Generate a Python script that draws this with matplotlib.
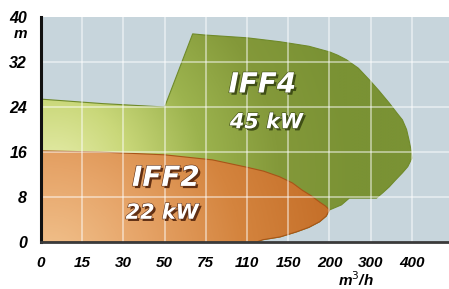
import numpy as np
import matplotlib
matplotlib.use('Agg')
import matplotlib.pyplot as plt
from matplotlib.patches import Polygon
from matplotlib.colors import LinearSegmentedColormap
import matplotlib.patheffects as pe

# ---- data ----
flow_ticks = ['0', '15', '30', '50', '75', '110', '150', '200', '300', '400']
head_ticks = [0, 8, 16, 24, 32, 40]

# IFF4 operating field boundary (position along flow axis in tick units, head m)
iff4_q = [0, 1.5, 3.0, 3.68, 3.97, 5.0, 5.8, 6.5, 7.0, 7.2, 7.41, 7.7, 7.97, 8.2, 8.45,
          8.65, 8.77, 8.87, 8.93, 8.98, 9.0, 8.9, 8.77, 8.6, 8.45, 8.3, 8.14, 7.48, 7.29, 7.0,
          6.92, 6.76, 6.5, 6.2, 5.8, 5.38, 5.23, 0]
iff4_h = [25.4, 24.6, 24.0, 37.0, 36.8, 36.3, 35.6, 34.8, 33.8, 33.2, 32.4, 30.9, 28.8, 26.9, 24.7,
          22.8, 21.7, 20.0, 18.1, 16.3, 14.9, 13.4, 12.3, 11.0, 9.8, 8.8, 7.8, 7.8, 6.6, 5.7,
          4.6, 3.6, 2.6, 1.8, 0.9, 0.4, 0, 0]

# IFF2 operating field boundary
iff2_q = [0, 1.43, 3.0, 4.16, 4.99, 5.4, 5.79, 6.1, 6.34, 6.56, 6.76, 6.9, 7.0, 6.92, 6.76,
          6.5, 6.2, 5.8, 5.38, 5.23, 0]
iff2_h = [16.2, 16.0, 15.5, 14.6, 13.3, 12.6, 11.6, 10.5, 9.2, 8.2, 7.1, 6.4, 5.7, 4.6, 3.6,
          2.6, 1.8, 0.9, 0.4, 0, 0]

XMAX = 9.9
YMAX = 40

fig = plt.figure(figsize=(4.49, 2.89), dpi=100)
fig.patch.set_facecolor('white')
ax = fig.add_axes([41 / 449, 47 / 289, 408 / 449, 225 / 289])
ax.set_facecolor('#c7d5dc')

PX_X = 408 / XMAX
PX_Y = 225 / YMAX


def grad_fill(q, h, colors, center, scale, zorder, edge):
    poly = Polygon(np.column_stack([q, h]), closed=True, facecolor='none',
                   edgecolor=edge, lw=0.8, zorder=zorder + 0.1)
    ax.add_patch(poly)
    xs = np.linspace(0, XMAX, 500)
    ys = np.linspace(0, YMAX, 300)
    X, Y = np.meshgrid(xs, ys)
    d = np.hypot((X - center[0]) * PX_X, (Y - center[1]) * PX_Y) / scale
    d = np.clip(d, 0, 1)
    cmap = LinearSegmentedColormap.from_list('g', colors)
    im = ax.imshow(d, extent=[0, XMAX, 0, YMAX], origin='lower', cmap=cmap,
                   aspect='auto', zorder=zorder, interpolation='bilinear', vmin=0, vmax=1)
    im.set_clip_path(poly)


grad_fill(iff4_q, iff4_h, ['#e8eeae', '#cad87a', '#9cb34e', '#84993a', '#7a9234'],
          (0.3, 12), 300, 2, '#6f8a2a')
grad_fill(iff2_q, iff2_h, ['#f2c490', '#e6a468', '#d4843e', '#c46e28'],
          (0.2, -4), 290, 3, '#a85418')

# grid
for i in range(1, len(flow_ticks)):
    ax.axvline(i, color='white', lw=1.2, alpha=0.55, zorder=4)
for v in head_ticks[1:-1]:
    ax.axhline(v, color='white', lw=1.2, alpha=0.55, zorder=4)

ax.set_xlim(0, XMAX)
ax.set_ylim(0, YMAX)
ax.set_xticks(range(len(flow_ticks)))
ax.set_xticklabels(flow_ticks)
ax.set_yticks(head_ticks)
ax.set_yticklabels([str(v) for v in head_ticks])
ax.tick_params(length=0)
ax.tick_params(axis='x', pad=10)
ax.tick_params(axis='y', pad=10)
for lab in ax.get_xticklabels():
    lab.set_fontfamily('Liberation Sans'); lab.set_fontweight('bold')
    lab.set_fontstyle('italic'); lab.set_fontsize(11)
for lab in ax.get_yticklabels():
    lab.set_fontfamily('Liberation Sans'); lab.set_fontweight('bold')
    lab.set_fontstyle('italic'); lab.set_fontsize(11.5)

for s in ['top', 'right']:
    ax.spines[s].set_visible(False)
ax.spines['left'].set_color('#111111')
ax.spines['left'].set_linewidth(2.2)
ax.spines['bottom'].set_color('#3a3a3a')
ax.spines['bottom'].set_linewidth(2.0)
for s in ['left', 'bottom']:
    ax.spines[s].set_zorder(6)

fig.text(27 / 449, 1 - 34 / 289, 'm', ha='right', va='center', fontsize=11,
         fontfamily='Liberation Sans', fontweight='bold', fontstyle='italic')
fig.text(356 / 449, 1 - 280 / 289, r'm$^3$/h', ha='center', va='center', fontsize=11,
         fontfamily='Liberation Sans', fontweight='bold', fontstyle='italic')


def label(x, y, s, size, dark):
    ax.text(x, y, s, ha='center', va='center', fontsize=size, color='white',
            fontfamily='DejaVu Sans', fontweight='bold', fontstyle='italic', zorder=7,
            path_effects=[pe.SimplePatchShadow(offset=(1.6, -1.6), shadow_rgbFace=dark, alpha=0.95),
                          pe.Stroke(linewidth=0.8, foreground=dark), pe.Normal()])


label(5.37, 28.0, 'IFF4', 20, '#3c4a14')
label(5.47, 21.3, '45 kW', 15, '#3c4a14')
label(3.03, 11.4, 'IFF2', 20, '#5a2a10')
label(2.94, 5.2, '22 kW', 15, '#5a2a10')

fig.savefig('out.png', dpi=100)
